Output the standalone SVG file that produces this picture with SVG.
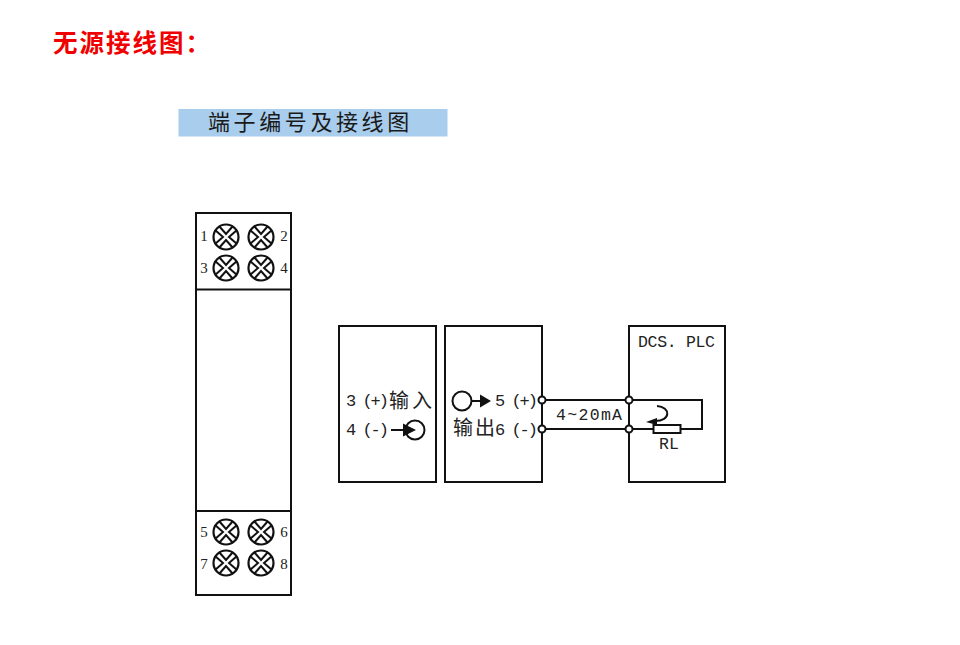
<svg xmlns="http://www.w3.org/2000/svg" width="960" height="645" viewBox="0 0 960 645">
<style>
.cn{font-family:"Noto Sans CJK SC","Liberation Sans",sans-serif}
.box{fill:#fff;stroke:#111;stroke-width:2}
.line{fill:none;stroke:#111;stroke-width:2}
.t{font-family:"Liberation Mono","Noto Sans CJK SC",monospace;font-size:17px;fill:#222;letter-spacing:-2px}
.m{font-family:"Liberation Mono",monospace;font-size:16.500px;fill:#222}
.n{font-family:"Liberation Serif",serif;font-size:15px;fill:#222;text-anchor:middle}
.x{fill:none;stroke:#111;stroke-width:2}
.dot{fill:#fff;stroke:#111;stroke-width:2}
</style>
<defs>
<g id="screw">
<circle r="12.500" fill="#fff" stroke="#111" stroke-width="2.200"/>
<path class="x" d="M-11-7-3 0-11 7M11-7 3 0 11 7M-7-11 0-3 7-11M-7 11 0 3 7 11"/>
</g>
</defs>
<rect width="960" height="645" fill="#fff"/>
<text x="53" y="52" class="cn" font-size="24.500" font-weight="700" fill="#f00000" letter-spacing="2">无源接线图：</text>
<g id="title">
<rect x="178.500" y="109" width="269" height="27.500" fill="#a9cdec"/>
<text x="208" y="130" class="cn" font-size="22" fill="#1a1a1a" letter-spacing="3.600">端子编号及接线图</text>
</g>
<g id="terminal-block">
<rect class="box" x="196" y="213" width="95" height="382"/>
<path class="line" d="M196 289.500H291M196 511H291"/>
<use href="#screw" x="226" y="237"/><use href="#screw" x="261" y="237"/>
<use href="#screw" x="226" y="268"/><use href="#screw" x="261" y="268"/>
<use href="#screw" x="226" y="532"/><use href="#screw" x="261" y="532"/>
<use href="#screw" x="226" y="563"/><use href="#screw" x="261" y="563"/>
<text class="n" x="204" y="241">1</text><text class="n" x="284" y="241">2</text>
<text class="n" x="204" y="273">3</text><text class="n" x="284" y="273">4</text>
<text class="n" x="204" y="537">5</text><text class="n" x="284" y="537">6</text>
<text class="n" x="204" y="569">7</text><text class="n" x="284" y="569">8</text>
</g>
<g id="input">
<rect class="box" x="339" y="326" width="97" height="156"/>
<text class="t" x="346" y="406">3 (+)</text>
<text class="cn" x="389" y="408" font-size="20" fill="#222" letter-spacing="3">输入</text>
<text class="t" x="346" y="435">4 (-)</text>
<path class="line" d="M391 430H406"/>
<path d="M403 423.500 416 430 403 436.500Z" fill="#111"/>
<circle cx="415" cy="430" r="9.500" class="line" stroke-width="2.200"/>
</g>
<g id="output">
<rect class="box" x="445" y="326" width="97" height="156"/>
<circle cx="462" cy="401" r="9.500" class="line"/>
<path class="line" d="M471 401H484"/>
<path d="M480 394.500 491 401 480 407.500Z" fill="#111"/>
<text class="t" x="495" y="406">5 (+)</text>
<text class="cn" x="453" y="435" font-size="20" fill="#222" letter-spacing="2">输出</text>
<text class="t" x="495" y="435">6 (-)</text>
</g>
<g id="dcs-plc">
<rect class="box" x="629" y="326" width="96" height="156"/>
<text x="638" y="347" class="m" textLength="77">DCS. PLC</text>
<text x="659" y="449" class="m" textLength="20">RL</text>
<rect x="653.500" y="425" width="27" height="8" fill="#fff" stroke="#111" stroke-width="2"/>
</g>
<g id="connectors">
<path class="line" d="M542 400H702V429H680.500M653.500 429H542"/>
<circle class="dot" cx="542" cy="400" r="3.500"/>
<circle class="dot" cx="542" cy="429" r="3.500"/>
<circle class="dot" cx="629" cy="400" r="3.500"/>
<circle class="dot" cx="629" cy="429" r="3.500"/>
<path class="line" d="M657 406C671 407 671 421 655 421"/>
<path d="M646 422 657 418 657 425Z" fill="#111"/>
<text x="556" y="420" class="m" textLength="66">4~20mA</text>
</g>
</svg>
